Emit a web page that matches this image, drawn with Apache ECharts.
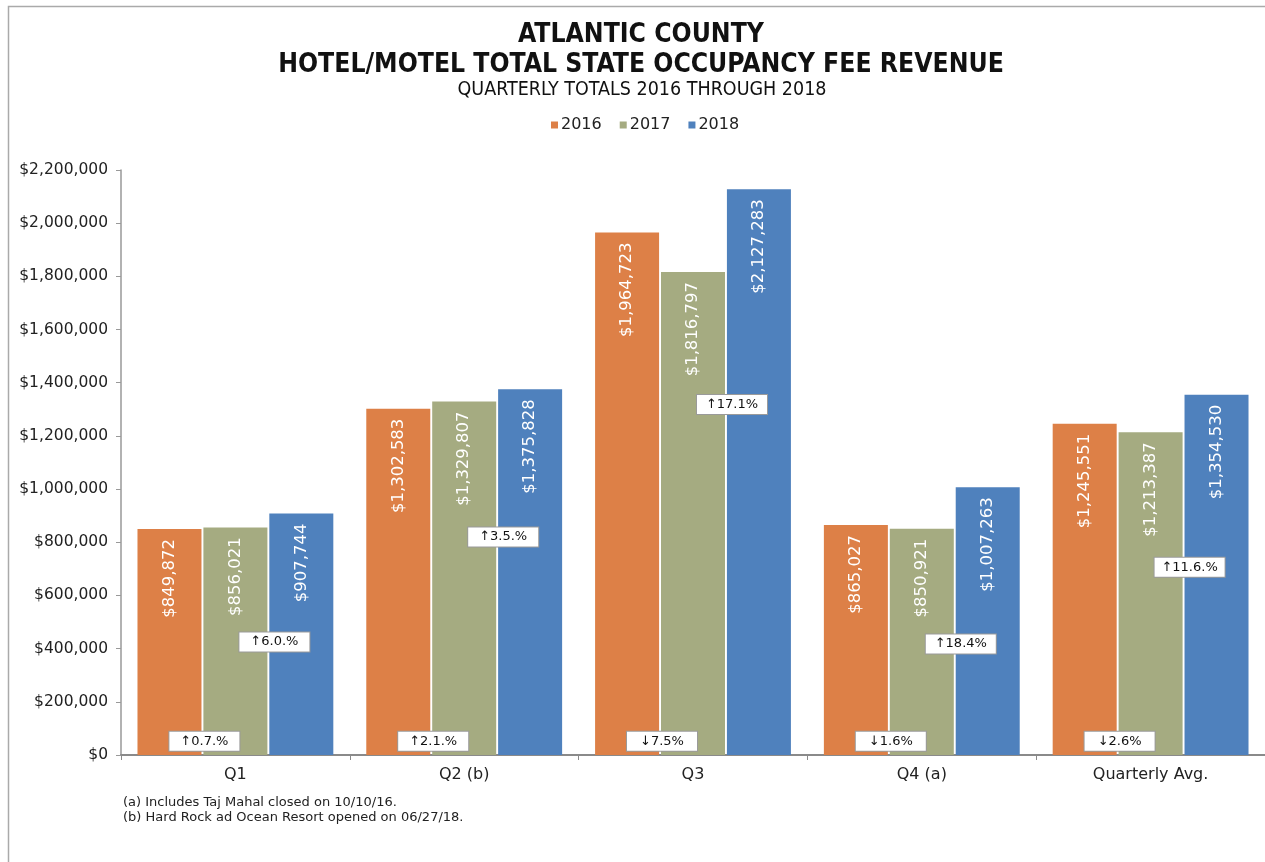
<!DOCTYPE html>
<html>
<head>
<meta charset="utf-8">
<script src="https://cdn.jsdelivr.net/npm/echarts@6/dist/echarts.min.js"></script>
<style>
  html, body { margin: 0; padding: 0; background: #fff; }
  #chart { width: 1265px; height: 862px; }
</style>
</head>
<body>
<div id="chart"></div>
<script>
// Quarterly state occupancy fee revenue, Atlantic County
const quarters = ['Q1', 'Q2 (b)', 'Q3', 'Q4 (a)', 'Quarterly Avg.'];
const years = ['2016', '2017', '2018'];
const rev2016 = [849872, 1302583, 1964723, 865027, 1245551];
const rev2017 = [856021, 1329807, 1816797, 850921, 1213387];
const rev2018 = [907744, 1375828, 2127283, 1007263, 1354530];

// Year-over-year change callouts, as printed
const change1617 = ['↑0.7.%', '↑2.1.%', '↓7.5%', '↓1.6%', '↓2.6%'];
const change1718 = ['↑6.0.%', '↑3.5.%', '↑17.1%', '↑18.4%', '↑11.6.%'];
// Height (in dollars on the value axis) where each callout sits
const change1617At = [52000, 52000, 52000, 52000, 52000];
const change1718At = [425000, 820000, 1318000, 417000, 706000];

const yTicks = { min: 0, max: 2200000, interval: 200000 };

const colors = ['#DD8047', '#A5AB81', '#4F81BD'];
const bodyFont = 'DejaVu Sans';
const headFont = "'DejaVu Sans Condensed', 'DejaVu Sans', sans-serif";

function money(v) {
  return '$' + Math.round(v).toString().replace(/\B(?=(\d{3})+(?!\d))/g, ',');
}

function barSeries(name, values, color) {
  return {
    name: name,
    type: 'bar',
    data: values,
    barWidth: 64,
    barGap: '3%',
    itemStyle: { color: color },
    label: {
      show: true,
      position: 'insideTop',
      rotate: 90,
      align: 'right',
      verticalAlign: 'middle',
      distance: 10,
      color: '#fff',
      fontFamily: bodyFont,
      fontSize: 16.5,
      formatter: p => money(p.value)
    }
  };
}

function calloutSeries(texts, levels, dx) {
  return {
    type: 'scatter',
    symbolSize: 0,
    z: 10,
    silent: true,
    itemStyle: { opacity: 1 },
    data: levels.map((v, i) => ({ value: [quarters[i], v], text: texts[i] })),
    label: {
      show: true,
      position: 'inside',
      offset: [dx, 0],
      formatter: p => p.data.text,
      color: '#111',
      fontFamily: bodyFont,
      fontSize: 13,
      backgroundColor: '#fff',
      borderColor: '#9a9a9a',
      borderWidth: 1,
      width: 50,
      align: 'center',
      padding: [3, 10, 3, 10]
    }
  };
}

const chart = echarts.init(document.getElementById('chart'));
chart.setOption({
  animation: false,
  color: colors,
  title: [
    {
      text: 'ATLANTIC COUNTY\nHOTEL/MOTEL TOTAL STATE OCCUPANCY FEE REVENUE',
      left: 636, top: 15, textAlign: 'center',
      textStyle: { fontFamily: headFont, fontWeight: 'bold', fontSize: 26.3, lineHeight: 30, color: '#111' }
    },
    {
      text: 'QUARTERLY TOTALS 2016 THROUGH 2018',
      left: 637, top: 74, textAlign: 'center',
      textStyle: { fontFamily: headFont, fontWeight: 'normal', fontSize: 19.5, lineHeight: 22, color: '#111' }
    },
    {
      text: '(a) Includes Taj Mahal closed on 10/10/16.\n(b) Hard Rock ad Ocean Resort opened on 06/27/18.',
      left: 118, top: 790,
      textStyle: { fontFamily: bodyFont, fontWeight: 'normal', fontSize: 13, lineHeight: 15, color: '#222' }
    }
  ],
  legend: {
    data: years,
    left: 546, top: 112,
    icon: 'rect', itemWidth: 7, itemHeight: 7, itemGap: 18,
    textStyle: { fontFamily: bodyFont, fontSize: 16, color: '#222', padding: [0, 0, 0, -2] }
  },
  graphic: [{
    type: 'rect',
    shape: { x: 8.5, y: 6.5, width: 1400, height: 1000 },
    style: { fill: 'none', stroke: '#aaa', lineWidth: 1.5 },
    silent: true
  }],
  grid: { left: 121, top: 170, width: 1150, height: 585 },
  xAxis: {
    type: 'category',
    data: quarters,
    axisLine: { lineStyle: { color: '#8a8a8a', width: 2 } },
    axisTick: { show: true, length: 5, lineStyle: { color: '#8a8a8a' } },
    axisLabel: { fontFamily: bodyFont, fontSize: 16, color: '#222', margin: 12 }
  },
  yAxis: {
    type: 'value',
    min: yTicks.min, max: yTicks.max, interval: yTicks.interval,
    splitLine: { show: false },
    axisLine: { show: true, lineStyle: { color: '#999', width: 1.5 } },
    axisTick: { show: true, length: 5, lineStyle: { color: '#999' } },
    axisLabel: { fontFamily: bodyFont, fontSize: 15.5, color: '#222', margin: 13, formatter: v => money(v) }
  },
  series: [
    barSeries(years[0], rev2016, colors[0]),
    barSeries(years[1], rev2017, colors[1]),
    barSeries(years[2], rev2018, colors[2]),
    calloutSeries(change1617, change1617At, -31),
    calloutSeries(change1718, change1718At, 39)
  ]
});
</script>
</body>
</html>
